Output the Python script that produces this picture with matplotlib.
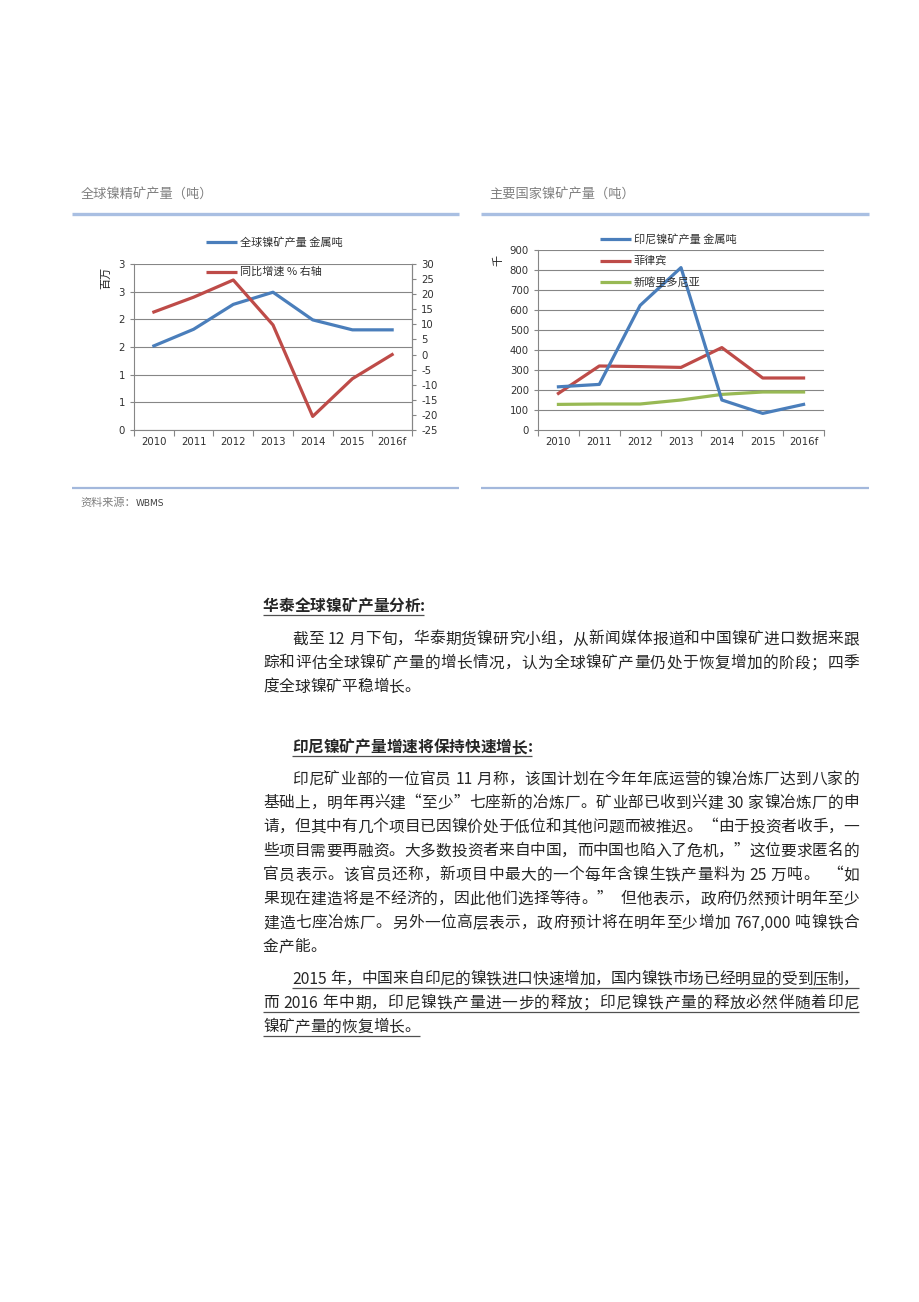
import re
import matplotlib
matplotlib.use('Agg')
import matplotlib.pyplot as plt
from matplotlib.lines import Line2D
from matplotlib.font_manager import FontProperties

plt.rcParams['font.family'] = ['Noto Sans CJK SC', 'DejaVu Sans']

W, H = 920, 1302

# ---- data ----
years = ['2010', '2011', '2012', '2013', '2014', '2015', '2016f']

global_ore = [1.52, 1.82, 2.27, 2.49, 1.99, 1.81, 1.81]      # 百万金属吨
global_yoy = [14.1, 19.0, 24.7, 9.8, -20.5, -8.0, 0.0]      # %
left_ticks = [0, 0.5, 1.0, 1.5, 2.0, 2.5, 3.0]
left_ticklabels = ['0', '1', '1', '2', '2', '3', '3']
right_ticks = [-25, -20, -15, -10, -5, 0, 5, 10, 15, 20, 25, 30]

indonesia = [216, 228, 623, 812, 150, 83, 128]   # 千吨
philippines = [183, 320, 317, 313, 412, 260, 260]
new_caledonia = [128, 130, 130, 150, 178, 190, 190]
country_ticks = [0, 100, 200, 300, 400, 500, 600, 700, 800, 900]

c_blue = '#4A7EBB'
c_red = '#BE4B48'
c_green = '#98B954'
c_grid = '#868686'

para1_title = '华泰全球镍矿产量分析:'
para1 = ['截至 12 月下旬，华泰期货镍研究小组，从新闻媒体报道和中国镍矿进口数据来跟',
         '踪和评估全球镍矿产量的增长情况，认为全球镍矿产量仍处于恢复增加的阶段；四季',
         '度全球镍矿平稳增长。']
para2_title = '印尼镍矿产量增速将保持快速增长:'
para2 = ['印尼矿业部的一位官员 11 月称，该国计划在今年年底运营的镍冶炼厂达到八家的',
         '基础上，明年再兴建“至少”七座新的冶炼厂。矿业部已收到兴建 30 家镍冶炼厂的申',
         '请，但其中有几个项目已因镍价处于低位和其他问题而被推迟。“由于投资者收手，一',
         '些项目需要再融资。大多数投资者来自中国，而中国也陷入了危机，”这位要求匿名的',
         '官员表示。该官员还称，新项目中最大的一个每年含镍生铁产量料为 25 万吨。  “如',
         '果现在建造将是不经济的，因此他们选择等待。”  但他表示，政府仍然预计明年至少',
         '建造七座冶炼厂。另外一位高层表示，政府预计将在明年至少增加 767,000 吨镍铁合',
         '金产能。']
para3 = ['2015 年，中国来自印尼的镍铁进口快速增加，国内镍铁市场已经明显的受到压制，',
         '而 2016 年中期，印尼镍铁产量进一步的释放；印尼镍铁产量的释放必然伴随着印尼',
         '镍矿产量的恢复增长。']

fig = plt.figure(figsize=(W / 100, H / 100), dpi=100)
fig.patch.set_facecolor('white')
renderer = fig.canvas.get_renderer()


def fx(x):
    return x / W


def fy(y):
    return 1 - y / H


def hline(x0, x1, y, color, lw):
    fig.add_artist(Line2D([fx(x0), fx(x1)], [fy(y), fy(y)], color=color, lw=lw,
                          transform=fig.transFigure, solid_capstyle='butt'))


# ---- panel headers / footers ----
fig.text(fx(81), fy(195), '全球镍精矿产量（吨）', fontsize=9.5, color='#808080', va='center')
fig.text(fx(489), fy(195), '主要国家镍矿产量（吨）', fontsize=9.5, color='#808080', va='center')
hline(72, 459, 214, '#A9BFE2', 2.4)
hline(481, 869, 214, '#A9BFE2', 2.4)
hline(72, 459, 488, '#A3B8DC', 1.6)
hline(481, 869, 488, '#A3B8DC', 1.6)
fig.text(fx(80), fy(503), '资料来源：', fontsize=8, color='#808080', va='center')
fig.text(fx(136), fy(503), 'WBMS', fontsize=6.5, color='#404040', va='center',
         family='DejaVu Sans')


def style_axes(ax, right=False):
    ax.spines['top'].set_visible(False)
    ax.spines['right'].set_visible(right)
    for s in ['left', 'bottom', 'right']:
        ax.spines[s].set_color(c_grid)
        ax.spines[s].set_linewidth(0.8)
    ax.set_xlim(-0.5, len(years) - 0.5)
    ax.set_xticks([i - 0.5 for i in range(len(years) + 1)])
    ax.set_xticklabels([])
    ax.set_xticks(range(len(years)), minor=True)
    ax.set_xticklabels(years, minor=True, fontsize=7.3, color='#303030', family='DejaVu Sans')
    ax.tick_params(axis='x', which='major', length=4, color=c_grid, width=0.8)
    ax.tick_params(axis='x', which='minor', length=0, pad=5)
    ax.tick_params(axis='y', length=3, color=c_grid, width=0.8, labelsize=7.3,
                   labelcolor='#303030')
    ax.set_facecolor('none')


# ---- left chart ----
axL = fig.add_axes([fx(134), fy(430), (412 - 134) / W, (430 - 264) / H])
style_axes(axL, right=True)
axL.set_ylim(0, 3)
axL.set_yticks(left_ticks)
axL.set_yticklabels(left_ticklabels, family='DejaVu Sans')
for t in left_ticks:
    axL.axhline(t, color=c_grid, lw=0.8, zorder=0)
axL.plot(range(len(years)), global_ore, color=c_blue, lw=2.3, zorder=3)
axR = axL.twinx()
axR.set_ylim(-25, 30)
axR.set_yticks(right_ticks)
axR.set_yticklabels([str(v) for v in right_ticks], family='DejaVu Sans')
for s in ['top', 'left', 'bottom']:
    axR.spines[s].set_visible(False)
axR.spines['right'].set_color(c_grid)
axR.spines['right'].set_linewidth(0.8)
axR.tick_params(axis='y', length=3, color=c_grid, width=0.8, labelsize=7.3, labelcolor='#303030')
axR.plot(range(len(years)), global_yoy, color=c_red, lw=2.3, zorder=3)
fig.text(fx(106), fy(278), '百万', fontsize=8, rotation=90, va='center', ha='center',
         color='#202020')

hline(206, 237, 242, c_blue, 2.3)
fig.text(fx(240), fy(242), '全球镍矿产量 金属吨', fontsize=8, va='center', color='#303030')
hline(206, 237, 272, c_red, 2.3)
fig.text(fx(240), fy(272), '同比增速 % 右轴', fontsize=8, va='center', color='#303030')

# ---- right chart ----
ax2 = fig.add_axes([fx(538), fy(430), (824 - 538) / W, (430 - 250) / H])
style_axes(ax2)
ax2.set_ylim(0, 900)
ax2.set_yticks(country_ticks)
ax2.set_yticklabels([str(v) for v in country_ticks], family='DejaVu Sans')
for t in country_ticks[1:]:
    ax2.axhline(t, color=c_grid, lw=0.8, zorder=0)
ax2.plot(range(len(years)), new_caledonia, color=c_green, lw=2.3, zorder=3)
ax2.plot(range(len(years)), philippines, color=c_red, lw=2.3, zorder=4)
ax2.plot(range(len(years)), indonesia, color=c_blue, lw=2.3, zorder=5)
fig.text(fx(498), fy(260), '千', fontsize=8, rotation=90, va='center', ha='center',
         color='#202020')

for y, c, lab in [(239, c_blue, '印尼镍矿产量 金属吨'), (261, c_red, '菲律宾'),
                  (282, c_green, '新喀里多尼亚')]:
    hline(600, 631, y, c, 2.3)
    fig.text(fx(634), fy(y), lab, fontsize=8, va='center', color='#303030')

# ---- body text ----
body_fs = 11.3
fp = FontProperties(family=['Noto Sans CJK SC'], size=body_fs)
em = body_fs * 100 / 72
text_color = '#262626'
RIGHT = 859


def token_width(tok):
    if re.fullmatch(r'[ -~]+', tok):
        core = tok.strip(' ')
        n_sp = len(tok) - len(core)
        w = renderer.get_text_width_height_descent(core, fp, ismath=False)[0] if core else 0
        return w + n_sp * 0.25 * em
    return em


def put_line(s, x0, y, justify, underline=False, bold=False):
    toks = re.findall(r'[ -~]+|.', s)
    widths = [token_width(t) for t in toks]
    if justify and len(toks) > 1:
        gap = (RIGHT - x0 - sum(widths)) / (len(toks) - 1)
    else:
        gap = 0
    x = x0
    for t, w in zip(toks, widths):
        if re.fullmatch(r'[ -~]+', t):
            lead = (len(t) - len(t.lstrip(' '))) * 0.25 * em
            fig.text(fx(x + lead), fy(y), t.strip(' '), fontsize=body_fs, va='center',
                     color=text_color, fontweight='bold' if bold else 'normal')
        else:
            fig.text(fx(x), fy(y), t, fontsize=body_fs, va='center', color=text_color,
                     fontweight='bold' if bold else 'normal')
        x += w + gap
    x_end = x - gap
    if underline:
        hline(x0, x_end, y + 9, '#505050', 0.9)


put_line(para1_title, 263, 606, False, underline=True, bold=True)
ys = [639, 663, 687]
for i, s in enumerate(para1):
    put_line(s, 292 if i == 0 else 263, ys[i], i < len(para1) - 1)

put_line(para2_title, 292, 747, False, underline=True, bold=True)
ys = [779, 803, 827, 851, 875, 899, 923, 947]
for i, s in enumerate(para2):
    put_line(s, 292 if i == 0 else 263, ys[i], i < len(para2) - 1)

ys = [979, 1003, 1027]
for i, s in enumerate(para3):
    put_line(s, 292 if i == 0 else 263, ys[i], i < len(para3) - 1, underline=True)

fig.savefig('out.png', dpi=100, facecolor='white')
